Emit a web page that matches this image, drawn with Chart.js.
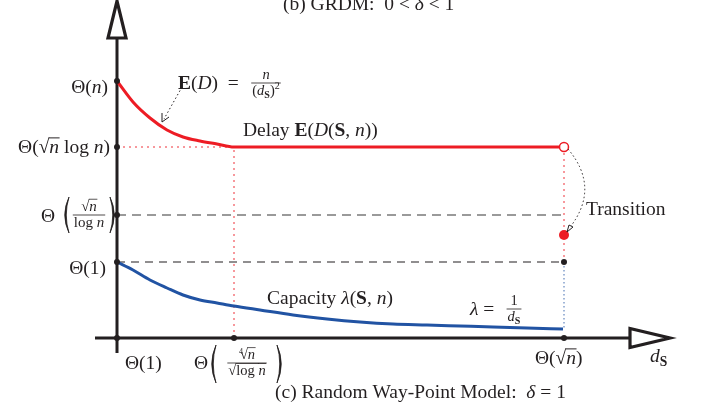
<!DOCTYPE html>
<html>
<head>
<meta charset="utf-8">
<script src="https://cdn.jsdelivr.net/npm/chart.js@4.4.1/dist/chart.umd.min.js"></script>
<style>
body { margin: 0; background: #fff; }
canvas { display: block; }
</style>
</head>
<body>
<canvas id="c" width="706" height="406"></canvas>
<script>
// delay E(D(S,n)): falls like n/(d_S)^2 then stays flat
var delayX = [0, 16, 33, 50, 66, 83, 100, 117, 447];
var delayY = [257, 236, 220, 208, 201, 197, 194, 191, 191];
// capacity lambda(S,n)
var capX = [0, 16, 33, 50, 66, 83, 100, 117, 143, 176, 210, 243, 276, 310, 343, 376, 410, 446];
var capY = [76, 68, 58, 50, 43, 38, 35, 32, 28, 23, 19, 16, 14, 13, 12, 11, 10, 9];
// levels marked on the axes
var yTickVals = [257, 191, 123, 76];
var yTickLabels = ["Θ(n)", "Θ(√n log n)", "Θ(√n / log n)", "Θ(1)"];
var xTickVals = [0, 117, 447];
var xTickLabels = ["Θ(1)", "Θ(⁴√n / √log n)", "Θ(√n)"];
var transitionY = 103;

var X_MIN = -117, X_MAX = 589, Y_MIN = -68, Y_MAX = 338;
var INK = "#231f20";
var RED = "#ed1c24";
var BLUE = "#2153a3";
var SERIF = '"Liberation Serif", "Times New Roman", serif';

function pts(xs, ys) {
	return xs.map(function(x, i) { return {x: x, y: ys[i]}; });
}

// ---- little text helpers (runs of normal / italic / bold text) ----
function fontFor(r, size) {
	return (r.i ? "italic " : "") + (r.b ? "bold " : "") + size.toFixed(1) + "px " + SERIF;
}
function runSize(r, size) {
	if (r.sz) return size * r.sz;
	return (r.sub || r.sup) ? size * 0.7 : size;
}
function runsWidth(ctx, runs, size) {
	var w = 0;
	runs.forEach(function(r) {
		ctx.font = fontFor(r, runSize(r, size));
		w += ctx.measureText(r.t).width + (r.dx || 0);
	});
	return w;
}
function drawRuns(ctx, runs, x, y, size, align) {
	var total = runsWidth(ctx, runs, size);
	if (align === "right") x -= total;
	if (align === "center") x -= total / 2;
	runs.forEach(function(r) {
		var s = runSize(r, size);
		ctx.font = fontFor(r, s);
		var dy = r.sub ? size * 0.22 : (r.sup ? -size * 0.38 : 0);
		if (r.dy) dy += r.dy * size;
		x += (r.dx || 0);
		ctx.fillText(r.t, x, y + dy);
		var w = ctx.measureText(r.t).width;
		if (r.over) {
			ctx.fillRect(x - 0.5, y + dy - s * 0.8, w + 1, Math.max(0.7, s * 0.05));
		}
		x += w;
	});
	return total;
}
function drawFrac(ctx, num, den, cx, barY, size) {
	var w = Math.max(runsWidth(ctx, num, size), runsWidth(ctx, den, size)) + 2;
	drawRuns(ctx, num, cx, barY - size * 0.28, size, "center");
	drawRuns(ctx, den, cx, barY + size * 0.8, size, "center");
	ctx.fillRect(cx - w / 2, barY - 0.4, w, 0.8);
}
function bigParen(ctx, x, top, bot, dir) {
	ctx.beginPath();
	ctx.moveTo(x, top);
	ctx.quadraticCurveTo(x - dir * 8.5, (top + bot) / 2, x, bot);
	ctx.quadraticCurveTo(x - dir * 5.5, (top + bot) / 2, x, top);
	ctx.fill();
	ctx.lineWidth = 0.8;
	ctx.stroke();
}

var diagramPlugin = {
	id: "diagram",
	beforeDatasetsDraw: function(chart) {
		var ctx = chart.ctx, xs = chart.scales.x, ys = chart.scales.y;
		var ox = xs.getPixelForValue(0), oy = ys.getPixelForValue(0);
		ctx.save();
		ctx.strokeStyle = INK;
		ctx.lineWidth = 3;
		ctx.lineCap = "butt";
		// vertical axis
		var topBase = ys.getPixelForValue(300), tip = ys.getPixelForValue(337);
		ctx.beginPath();
		ctx.moveTo(ox, ys.getPixelForValue(-15));
		ctx.lineTo(ox, topBase);
		ctx.stroke();
		// horizontal axis
		var rightBase = xs.getPixelForValue(513), rtip = xs.getPixelForValue(553);
		ctx.beginPath();
		ctx.moveTo(xs.getPixelForValue(-22), oy);
		ctx.lineTo(rightBase, oy);
		ctx.stroke();
		// open arrow heads
		ctx.lineWidth = 3.2;
		ctx.lineJoin = "miter";
		ctx.fillStyle = "#fff";
		ctx.beginPath();
		ctx.moveTo(ox - 9, topBase);
		ctx.lineTo(ox + 9, topBase);
		ctx.lineTo(ox, tip);
		ctx.closePath();
		ctx.fill();
		ctx.stroke();
		ctx.beginPath();
		ctx.moveTo(rightBase, oy - 9.5);
		ctx.lineTo(rightBase, oy + 9.5);
		ctx.lineTo(rtip, oy);
		ctx.closePath();
		ctx.fill();
		ctx.stroke();
		ctx.restore();
	},
	afterDatasetsDraw: function(chart) {
		var ctx = chart.ctx, xs = chart.scales.x, ys = chart.scales.y;
		var ox = xs.getPixelForValue(0), oy = ys.getPixelForValue(0);
		var S = 19.5, F = 14.5;
		ctx.save();
		ctx.fillStyle = INK;
		ctx.strokeStyle = INK;
		ctx.textBaseline = "alphabetic";

		// titles
		drawRuns(ctx, [{t: "(b) GRDM:  0 < "}, {t: "δ", i: 1}, {t: " < 1"}], 283, 10, S, "left");
		drawRuns(ctx, [{t: "(c) Random Way-Point Model:  "}, {t: "δ", i: 1}, {t: " = 1"}], 275, 398, S, "left");

		// y tick labels
		var py = yTickVals.map(function(v) { return ys.getPixelForValue(v); });
		drawRuns(ctx, [{t: "Θ("}, {t: "n", i: 1}, {t: ")"}], ox - 9, py[0] + 12, S, "right");
		drawRuns(ctx, [{t: "Θ("}, {t: "√"}, {t: "n", i: 1, over: 1}, {t: " log "}, {t: "n", i: 1}, {t: ")"}], ox - 7, py[1] + 6, S, "right");
		drawRuns(ctx, [{t: "Θ"}], 41, py[2] + 7, S, "left");
		ctx.lineWidth = 0.8;
		bigParen(ctx, 69, py[2] - 18, py[2] + 18, 1);
		drawFrac(ctx, [{t: "√"}, {t: "n", i: 1, over: 1}], [{t: "log "}, {t: "n", i: 1}], 89, py[2], 15);
		bigParen(ctx, 110, py[2] - 18, py[2] + 18, -1);
		drawRuns(ctx, [{t: "Θ(1)"}], ox - 11, py[3] + 12, S, "right");

		// x tick labels
		var px = xTickVals.map(function(v) { return xs.getPixelForValue(v); });
		var xb = oy + 31;
		drawRuns(ctx, [{t: "Θ(1)"}], px[0] + 8, xb, S, "left");
		drawRuns(ctx, [{t: "Θ"}], px[1] - 40, xb, S, "left");
		bigParen(ctx, px[1] - 18, oy + 7, oy + 45, 1);
		drawFrac(ctx, [{t: "4", sz: 0.55, dy: -0.35, dx: 0}, {t: "√", dx: -3}, {t: "n", i: 1, over: 1}],
			[{t: "√"}, {t: "log ", over: 1}, {t: "n", i: 1, over: 1}], px[1] + 13, oy + 25, F);
		bigParen(ctx, px[1] + 43, oy + 7, oy + 45, -1);
		drawRuns(ctx, [{t: "Θ("}, {t: "√"}, {t: "n", i: 1, over: 1}, {t: ")"}], px[2] - 29, oy + 26, S, "left");
		drawRuns(ctx, [{t: "d", i: 1}, {t: "S", b: 1, sub: 1}], 650, oy + 24, S, "left");

		// curve labels
		drawRuns(ctx, [{t: "Delay "}, {t: "E", b: 1}, {t: "("}, {t: "D", i: 1}, {t: "("}, {t: "S", b: 1}, {t: ", "}, {t: "n", i: 1}, {t: "))"}], 243, 136, S, "left");
		drawRuns(ctx, [{t: "E", b: 1}, {t: "("}, {t: "D", i: 1}, {t: ")  =  "}], 178, 89, S, "left");
		drawFrac(ctx, [{t: "n", i: 1}], [{t: "("}, {t: "d", i: 1}, {t: "S", b: 1, sub: 1}, {t: ")"}, {t: "2", sup: 1}], 266, 83, F);
		drawRuns(ctx, [{t: "Capacity "}, {t: "λ", i: 1}, {t: "("}, {t: "S", b: 1}, {t: ", "}, {t: "n", i: 1}, {t: ")"}], 267, 304, S, "left");
		drawRuns(ctx, [{t: "λ", i: 1}, {t: " = "}], 470, 315, S, "left");
		drawFrac(ctx, [{t: "1"}], [{t: "d", i: 1}, {t: "S", b: 1, sub: 1}], 514, 309, F);
		drawRuns(ctx, [{t: "Transition"}], 586, 215, S, "left");

		// dotted pointer to the n/(d_S)^2 part
		ctx.lineWidth = 1;
		ctx.setLineDash([1.5, 2.5]);
		ctx.beginPath();
		ctx.moveTo(182, 87);
		ctx.lineTo(164, 119);
		ctx.stroke();
		ctx.setLineDash([]);
		ctx.beginPath();
		ctx.moveTo(162, 113);
		ctx.lineTo(162, 122);
		ctx.lineTo(169, 117);
		ctx.stroke();

		// dotted transition pointer
		var tx = px[2];
		var ty0 = ys.getPixelForValue(yTickVals[1]), ty1 = ys.getPixelForValue(transitionY);
		ctx.setLineDash([1.5, 2.5]);
		ctx.beginPath();
		ctx.moveTo(tx + 4, ty0 + 2);
		ctx.quadraticCurveTo(tx + 36, ty0 + 40, tx + 7, ty1 - 9);
		ctx.stroke();
		ctx.setLineDash([]);
		ctx.fillStyle = "#fff";
		ctx.beginPath();
		ctx.moveTo(tx + 3, ty1 - 3);
		ctx.lineTo(tx + 5, ty1 - 10);
		ctx.lineTo(tx + 9, ty1 - 8);
		ctx.closePath();
		ctx.fill();
		ctx.stroke();
		ctx.restore();
	}
};

var tickDots = [{x: 0, y: 0}].concat(
	yTickVals.map(function(v) { return {x: 0, y: v}; }),
	xTickVals.slice(1).map(function(v) { return {x: v, y: 0}; }),
	[{x: xTickVals[2], y: yTickVals[3]}]
);

var chart = new Chart(document.getElementById("c"), {
	type: "scatter",
	data: {
		datasets: [
			{data: tickDots, pointRadius: 3, pointBackgroundColor: INK, pointBorderWidth: 0, showLine: false},
			{data: [{x: xTickVals[2], y: yTickVals[1]}], pointRadius: 4.5, pointBackgroundColor: "#fff", pointBorderColor: RED, pointBorderWidth: 1.5, showLine: false},
			{data: [{x: xTickVals[2], y: transitionY}], pointRadius: 5, pointBackgroundColor: RED, pointBorderWidth: 0, showLine: false},
			{data: pts(delayX, delayY), showLine: true, borderColor: RED, borderWidth: 3, pointRadius: 0, cubicInterpolationMode: "monotone"},
			{data: pts(capX, capY), showLine: true, borderColor: BLUE, borderWidth: 3, pointRadius: 0, cubicInterpolationMode: "monotone"},
			// guide lines
			{data: [{x: 0, y: yTickVals[1]}, {x: xTickVals[1], y: yTickVals[1]}, {x: xTickVals[1], y: 0}], showLine: true, borderColor: "rgba(237,28,36,0.6)", borderWidth: 1.5, borderDash: [2, 4], pointRadius: 0},
			{data: [{x: xTickVals[2], y: yTickVals[1]}, {x: xTickVals[2], y: yTickVals[3]}], showLine: true, borderColor: "rgba(237,28,36,0.6)", borderWidth: 1.5, borderDash: [2, 4], pointRadius: 0},
			{data: [{x: xTickVals[2], y: yTickVals[3]}, {x: xTickVals[2], y: capY[capY.length - 1]}], showLine: true, borderColor: "rgba(33,83,163,0.7)", borderWidth: 1.2, borderDash: [1.5, 2.5], pointRadius: 0},
			{data: [{x: 0, y: yTickVals[2]}, {x: xTickVals[2], y: yTickVals[2]}], showLine: true, borderColor: "#7a7a7a", borderWidth: 1.3, borderDash: [9, 6], pointRadius: 0},
			{data: [{x: 0, y: yTickVals[3]}, {x: xTickVals[2], y: yTickVals[3]}], showLine: true, borderColor: INK, borderWidth: 1.2, borderDash: [8, 6], pointRadius: 0}
		]
	},
	options: {
		responsive: false,
		animation: false,
		devicePixelRatio: 1,
		layout: {padding: 0, autoPadding: false},
		plugins: {legend: {display: false}, tooltip: {enabled: false}},
		scales: {
			x: {type: "linear", min: X_MIN, max: X_MAX, display: false},
			y: {type: "linear", min: Y_MIN, max: Y_MAX, display: false}
		}
	},
	plugins: [diagramPlugin]
});
</script>
</body>
</html>
